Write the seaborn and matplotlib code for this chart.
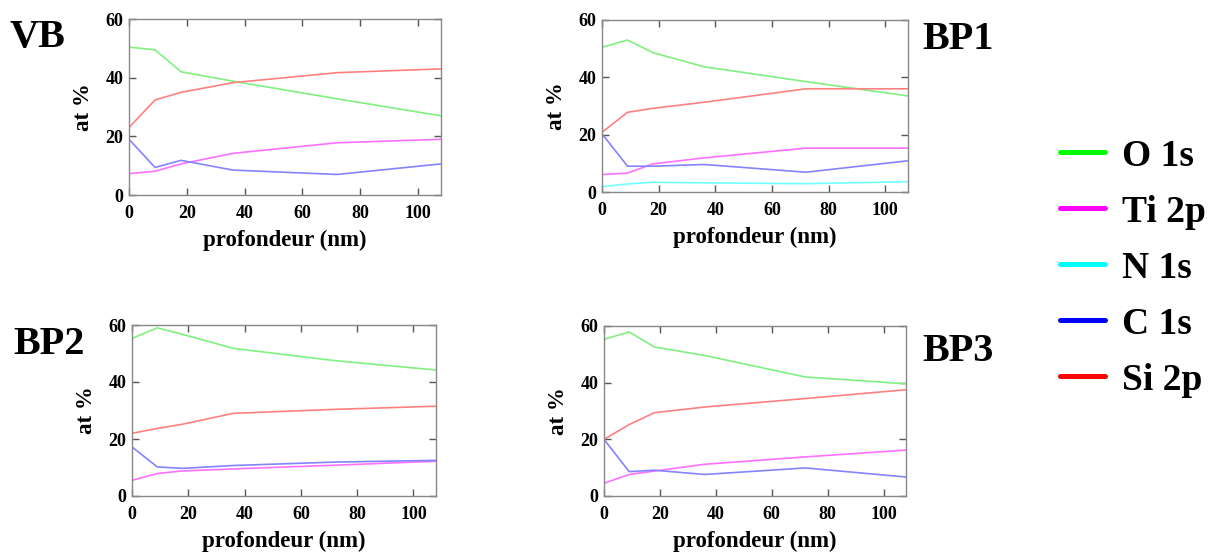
import matplotlib
matplotlib.use("Agg")
import matplotlib.pyplot as plt
import seaborn as sns
import pandas as pd
from matplotlib.lines import Line2D

# ---- data ----
depth = [0, 9, 18, 36, 72, 108]
elements = ["O 1s", "Ti 2p", "N 1s", "C 1s", "Si 2p"]

vb_O = [50.4, 49.5, 42.0, 38.8, 32.8, 27.0]
vb_Ti = [7.3, 8.1, 10.6, 14.2, 17.8, 19.0]
vb_C = [19.0, 9.4, 11.8, 8.5, 7.0, 10.6]
vb_Si = [23.0, 32.4, 35.0, 38.3, 41.7, 43.0]

bp1_O = [50.5, 53.0, 48.6, 43.7, 38.5, 33.5]
bp1_Ti = [6.1, 6.6, 9.8, 11.9, 15.3, 15.3]
bp1_N = [1.9, 2.8, 3.4, 3.2, 2.9, 3.6]
bp1_C = [20.3, 9.0, 9.0, 9.6, 6.9, 10.9]
bp1_Si = [20.8, 27.8, 29.2, 31.3, 36.0, 36.0]

bp2_O = [55.3, 59.0, 56.7, 51.8, 47.5, 44.2]
bp2_Ti = [5.5, 7.9, 8.8, 9.5, 10.8, 12.2]
bp2_C = [17.2, 10.2, 9.7, 10.7, 11.9, 12.5]
bp2_Si = [22.0, 23.7, 25.2, 29.0, 30.4, 31.5]

bp3_O = [55.3, 57.9, 52.6, 49.6, 42.0, 39.6]
bp3_Ti = [4.5, 7.6, 8.8, 11.2, 13.8, 16.2]
bp3_C = [20.0, 8.6, 9.1, 7.6, 9.9, 6.7]
bp3_Si = [20.0, 25.2, 29.4, 31.4, 34.4, 37.5]

panels = {
    "VB": {"O 1s": vb_O, "Ti 2p": vb_Ti, "C 1s": vb_C, "Si 2p": vb_Si},
    "BP1": {"O 1s": bp1_O, "Ti 2p": bp1_Ti, "N 1s": bp1_N, "C 1s": bp1_C, "Si 2p": bp1_Si},
    "BP2": {"O 1s": bp2_O, "Ti 2p": bp2_Ti, "C 1s": bp2_C, "Si 2p": bp2_Si},
    "BP3": {"O 1s": bp3_O, "Ti 2p": bp3_Ti, "C 1s": bp3_C, "Si 2p": bp3_Si},
}

line_colors = {"O 1s": "#80f080", "Ti 2p": "#ff70ff", "N 1s": "#70ffff",
               "C 1s": "#8484ff", "Si 2p": "#ff8080"}
legend_colors = {"O 1s": "#00ff00", "Ti 2p": "#ff00ff", "N 1s": "#00ffff",
                 "C 1s": "#0000ff", "Si 2p": "#ff0000"}

rows = []
for pname, series in panels.items():
    for el, vals in series.items():
        for d, v in zip(depth, vals):
            rows.append({"panel": pname, "element": el, "depth": d, "value": v})
df = pd.DataFrame(rows)

sns.set_style("ticks")
plt.rcParams["font.family"] = ["Liberation Serif", "DejaVu Serif"]
plt.rcParams["font.weight"] = "bold"
plt.rcParams["text.color"] = "black"
plt.rcParams["axes.labelcolor"] = "black"
plt.rcParams["xtick.labelcolor"] = "black"
plt.rcParams["ytick.labelcolor"] = "black"

W, H = 1216, 556
fig = plt.figure(figsize=(W / 100, H / 100), dpi=100)

# pixel boxes: left, top, right, bottom
boxes = {
    "VB": (129, 19, 441, 195),
    "BP1": (602, 20, 908, 192),
    "BP2": (132, 325, 436, 496),
    "BP3": (604, 326, 906, 496),
}
label_pos = {
    "VB": (10, 47),
    "BP1": (922, 49),
    "BP2": (13, 354),
    "BP3": (922, 361),
}

for pname, (l, t, r, b) in boxes.items():
    ax = fig.add_axes([l / W, 1 - b / H, (r - l) / W, (b - t) / H])
    sub = df[df.panel == pname]
    sns.lineplot(data=sub, x="depth", y="value", hue="element",
                 palette=line_colors, ax=ax, legend=False, linewidth=1.2,
                 estimator=None, sort=False)
    ax.set_xlim(0, 108)
    ax.set_ylim(0, 60)
    ax.set_xticks([0, 20, 40, 60, 80, 100])
    ax.set_yticks([0, 20, 40, 60])
    ax.tick_params(direction="in", top=True, right=True, length=5, width=1,
                   color="#555555", labelsize=13, labelcolor="black")
    ax.tick_params(axis="x", pad=7)
    ax.tick_params(axis="y", pad=4)
    for lab in ax.get_xticklabels() + ax.get_yticklabels():
        lab.set_fontweight("bold")
    for sp in ax.spines.values():
        sp.set_visible(True)
        sp.set_color("#888888")
        sp.set_linewidth(1.0)
    ax.set_xlabel("profondeur (nm)", fontsize=16.5, fontweight="bold",
                  labelpad=6, color="black")
    ax.set_ylabel("at %", fontsize=16.5, fontweight="bold", labelpad=8,
                  color="black")
    lx, ly = label_pos[pname]
    fig.text(lx / W, 1 - ly / H, pname, fontsize=29, fontweight="bold",
             ha="left", va="baseline", color="black")

# legend
fs = 27
handles = [Line2D([0], [0], color=legend_colors[e], lw=3.6) for e in elements]
fig.legend(handles, elements, loc="center left",
           bbox_to_anchor=(1049 / W, 1 - 268 / H), frameon=False,
           prop={"family": "Liberation Serif", "weight": "bold", "size": fs},
           handlelength=1.2, handletextpad=0.45, labelspacing=0.56,
           borderaxespad=0, borderpad=0.3, labelcolor="black")

fig.savefig("out.png", dpi=100, facecolor="white")
